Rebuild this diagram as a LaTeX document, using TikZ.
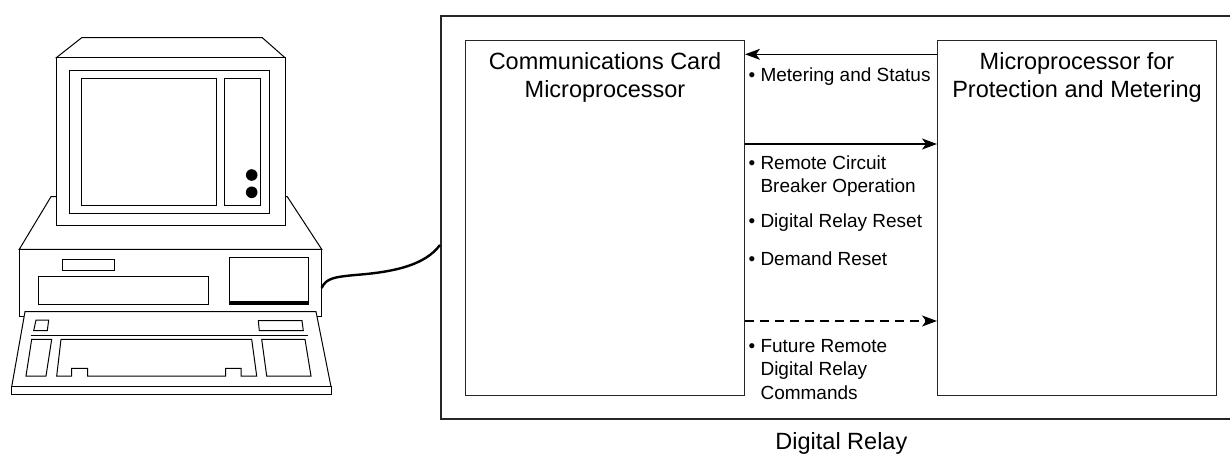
\documentclass[tikz,border=0pt]{standalone}
\usepackage{fontspec}
\setmainfont{Liberation Sans}
\usetikzlibrary{arrows.meta,positioning}
\newcommand{\msg}[1]{\textbullet\ #1}
\newcommand{\more}{\hphantom{\textbullet\ }}

\begin{document}
\begin{tikzpicture}[x=1pt,y=-1pt,line join=miter,
  flow/.style={line width=1.3pt,-{Stealth[length=15pt,width=11pt,inset=4pt]}}]

    % `cpu' is used for both processor boxes.
    % `title' and `msg' are the texts inside and between them.
    \tikzstyle{cpu} = [draw,line width=1pt,black!85,minimum width=279pt,minimum height=354.8pt,inner sep=0pt,anchor=north west]
    \tikzstyle{title} = [inner sep=0pt,align=center,font=\fontsize{23.5}{28}\selectfont]
    \tikzstyle{msg} = [inner sep=0pt,align=left,anchor=base west,font=\fontsize{19}{23.5}\selectfont]
    \tikzstyle{part} = [line width=1pt,fill=white]
    %
    \useasboundingbox (0,0) rectangle (1230,454);
    \clip (0,0) rectangle (1230,454);

    % Relay housing, open to the right.
    \node[draw,line width=1.8pt,black!85,minimum width=801pt,minimum height=402.4pt,
          inner sep=0pt,anchor=north west] (relay) at (440,15.3) {};
    \node[title,below=13pt of relay.south] (relaycap) {Digital Relay};

    \node[cpu] (commcpu) at (465,40.5) {};
    \node[cpu] (protcpu) at (937,40.5) {};
    \node[title,below=12.2pt of commcpu.north] (commtitle) {Communications Card\\Microprocessor};
    \node[title,below=12.2pt of protcpu.north] (prottitle) {Microprocessor for\\Protection and Metering};

    % Data paths between the two processors.
    \draw[flow] ([yshift=-13.8pt]protcpu.north west) -- ([yshift=-13.8pt]commcpu.north east);
    \draw[flow] ([yshift=-103.5pt]commcpu.north east) -- ([yshift=-103.5pt]protcpu.north west);
    \draw[flow,dashed,dash pattern=on 9pt off 6pt] ([yshift=-280.5pt]commcpu.north east) -- ([yshift=-280.5pt]protcpu.north west);

    % base anchor of a multi-line msg sits on its last line
    \node[msg] (status) at ([xshift=3.4pt,yshift=-41.2pt]commcpu.north east) {\msg{Metering and Status}};
    \node[msg] (breaker) at ([xshift=3.4pt,yshift=-152.2pt]commcpu.north east) {\msg{Remote Circuit}\\\more Breaker Operation};
    \node[msg] (reset) at ([xshift=3.4pt,yshift=-187.5pt]commcpu.north east) {\msg{Digital Relay Reset}};
    \node[msg] (demand) at ([xshift=3.4pt,yshift=-224.5pt]commcpu.north east) {\msg{Demand Reset}};
    \node[msg] (future) at ([xshift=3.4pt,yshift=-358.8pt]commcpu.north east) {\msg{Future Remote}\\\more Digital Relay\\\more Commands};

    % Personal computer: system unit, monitor, keyboard.
    \draw[part] (19.3,249.3) -- (51,196.7) -- (287.3,196.7) -- (321.7,249.3) -- cycle;
    \draw[part] (19.3,249.3) rectangle (321.7,316);
    \draw[part] (62.7,259) rectangle (114.3,270.7);
    \draw[part] (38.7,276.3) rectangle (208,304);
    \draw[part] (229.7,257) rectangle (308.3,304);
    \fill (229.7,300.5) rectangle (308.3,304);

    \draw[part] (56.3,57.7) -- (81.7,37.7) -- (262.3,37.7) -- (285,57.7) -- cycle;
    \draw[part] (56.3,57.7) rectangle (285,225.7);
    \draw[part] (69.7,70.7) rectangle (269.3,214);
    \draw[part] (81.7,79) rectangle (216.7,206);
    \draw[part] (224.3,79) rectangle (260.7,206);
    \foreach \y in {175,192.3}
        \fill (251.7,\y) circle (5.8pt);

    \draw[part] (25,311.7) -- (316,311.7) -- (331,386.7) -- (11.7,386.7) -- cycle;
    \draw[part] (11.7,386.7) rectangle (331,394);
    \draw[line width=1pt] (30.7,335) -- (308.3,335);
    \draw[part] (36,320) -- (48.7,320) -- (47.3,330.7) -- (33.7,330.7) -- cycle;
    \draw[part] (258.3,320.7) -- (302,320.7) -- (303.3,330.7) -- (259.3,330.7) -- cycle;
    \draw[part] (31.7,339.3) -- (51.7,339.3) -- (46,376) -- (26,376) -- cycle;
    \draw[part] (61,339.3) -- (251.7,339.3) -- (256.7,376) -- (241,376) -- (241,368.3)
        -- (225.7,368.3) -- (225.7,376) -- (87.7,376) -- (87.7,368.3) -- (71.7,368.3)
        -- (71.7,376) -- (56.7,376) -- cycle;
    \draw[part] (261.7,339.3) -- (305,339.3) -- (311,376) -- (266.7,376) -- cycle;

    % Serial cable into the relay.
    \coordinate (port) at (321.7,288);
    \coordinate (jack) at (relay.west |- 0,245);
    \draw[line width=2.4pt] (port) .. controls (326,278) and (335,277) .. (355,275)
        .. controls (395,272) and (425,265) .. (jack);
    %
    \end{tikzpicture}
\end{document}
